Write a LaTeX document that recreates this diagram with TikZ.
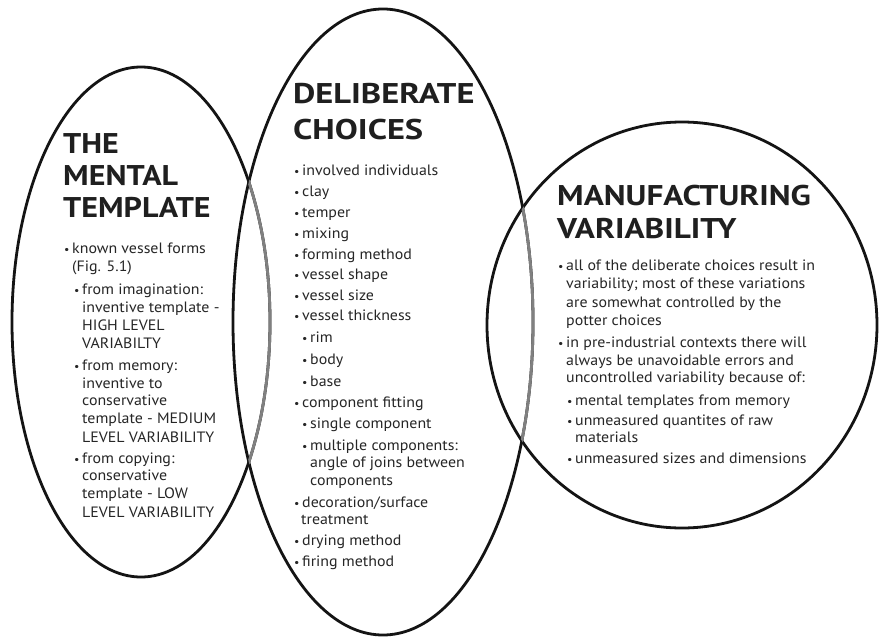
\documentclass[tikz,border=0pt]{standalone}
\usepackage{fontspec}
\usepackage{graphicx}
\setmainfont{PT Sans}[FakeStretch=1.06]
\newcommand\bul{\llap{\scalebox{0.75}{\textbullet}\hspace{2.6pt}}}
\newcommand\ttlbox[2]{\scalebox{#1}[1]{#2}}
\tikzset{
  ring/.style={line width=2.8pt, draw=black!92},
  ringgray/.style={line width=2.8pt, draw=black!50},
  ttl/.style={anchor=base west, inner sep=0pt, font=\bfseries\fontsize{28.5}{30}\selectfont, text=black!88},
  txt/.style={anchor=base west, inner sep=0pt, font=\fontsize{15}{16}\selectfont, text=black!85}
}
\newcommand\txl[4]{\node[txt] (#1) at (#2,#3) {#4};}
\begin{document}
\begin{tikzpicture}[x=1pt,y=-1pt]
\useasboundingbox (0,0) rectangle (880,637);
\fill[white] (0,0) rectangle (880,637);
% ellipses
\draw[ring] (141,322) ellipse [x radius=129, y radius=255];
\draw[ring] (383,322) ellipse [x radius=150, y radius=313];
\draw[ring] (682,325) ellipse [x radius=195, y radius=203];
\begin{scope}
  \clip (383,322) ellipse [x radius=150, y radius=313];
  \draw[ringgray] (141,322) ellipse [x radius=129, y radius=255];
\end{scope}
\begin{scope}
  \clip (682,325) ellipse [x radius=195, y radius=203];
  \draw[ringgray] (383,322) ellipse [x radius=150, y radius=313];
\end{scope}
% left
\node[ttl] (lt1) at (63,153) {\ttlbox{1.06}{THE}};
\node[ttl] (lt2) at (63,185) {\ttlbox{1.06}{MENTAL}};
\node[ttl] (lt3) at (63,217) {\ttlbox{1.06}{TEMPLATE}};
\txl{l1}{72}{253}{\bul known vessel forms}
\txl{l2}{72}{271}{(Fig. 5.1)}
\txl{l3}{82}{294}{\bul from imagination:}
\txl{l4}{82}{312}{inventive template -}
\txl{l5}{82}{330}{HIGH LEVEL}
\txl{l6}{82}{348}{VARIABILTY}
\txl{l7}{82}{370}{\bul from memory:}
\txl{l8}{82}{388}{inventive to}
\txl{l9}{82}{405}{conservative}
\txl{l10}{82}{423}{template - MEDIUM}
\txl{l11}{82}{442}{LEVEL VARIABILITY}
\txl{l12}{82}{463}{\bul from copying:}
\txl{l13}{82}{480}{conservative}
\txl{l14}{82}{498}{template - LOW}
\txl{l15}{82}{517}{LEVEL VARIABILITY}
% middle
\node[ttl] (mt1) at (293,103) {\ttlbox{1.14}{DELIBERATE}};
\node[ttl] (mt2) at (293,139) {\ttlbox{1.14}{CHOICES}};
\txl{m1}{302}{175}{\bul involved individuals}
\txl{m2}{302}{196}{\bul clay}
\txl{m3}{302}{217}{\bul temper}
\txl{m4}{302}{238}{\bul mixing}
\txl{m5}{302}{259}{\bul forming method}
\txl{m6}{302}{279}{\bul vessel shape}
\txl{m7}{302}{300}{\bul vessel size}
\txl{m8}{302}{320}{\bul vessel thickness}
\txl{m9}{310}{342}{\bul rim}
\txl{m10}{310}{364}{\bul body}
\txl{m11}{310}{386}{\bul base}
\txl{m12}{302}{407}{\bul component fitting}
\txl{m13}{310}{428}{\bul single component}
\txl{m14}{310}{450}{\bul multiple components:}
\txl{m15}{310}{467}{angle of joins between}
\txl{m16}{310}{485}{components}
\txl{m17}{302}{507}{\bul decoration/surface}
\txl{m18}{301}{524}{treatment}
\txl{m19}{302}{545}{\bul drying method}
\txl{m20}{302}{566}{\bul firing method}
% right
\node[ttl] (rt1) at (557,205) {\ttlbox{1.1}{MANUFACTURING}};
\node[ttl] (rt2) at (557,238) {\ttlbox{1.1}{VARIABILITY}};
\txl{r1}{566}{270}{\bul all of the deliberate choices result in}
\txl{r2}{566}{288}{variability; most of these variations}
\txl{r3}{566}{307}{are somewhat controlled by the}
\txl{r4}{566}{325}{potter choices}
\txl{r5}{566}{347}{\bul in pre-industrial contexts there will}
\txl{r6}{566}{365}{always be unavoidable errors and}
\txl{r7}{566}{382}{uncontrolled variability because of:}
\txl{r8}{575}{405}{\bul mental templates from memory}
\txl{r9}{575}{425}{\bul unmeasured quantites of raw}
\txl{r10}{575}{442}{materials}
\txl{r11}{575}{463}{\bul unmeasured sizes and dimensions}
\end{tikzpicture}
\end{document}
